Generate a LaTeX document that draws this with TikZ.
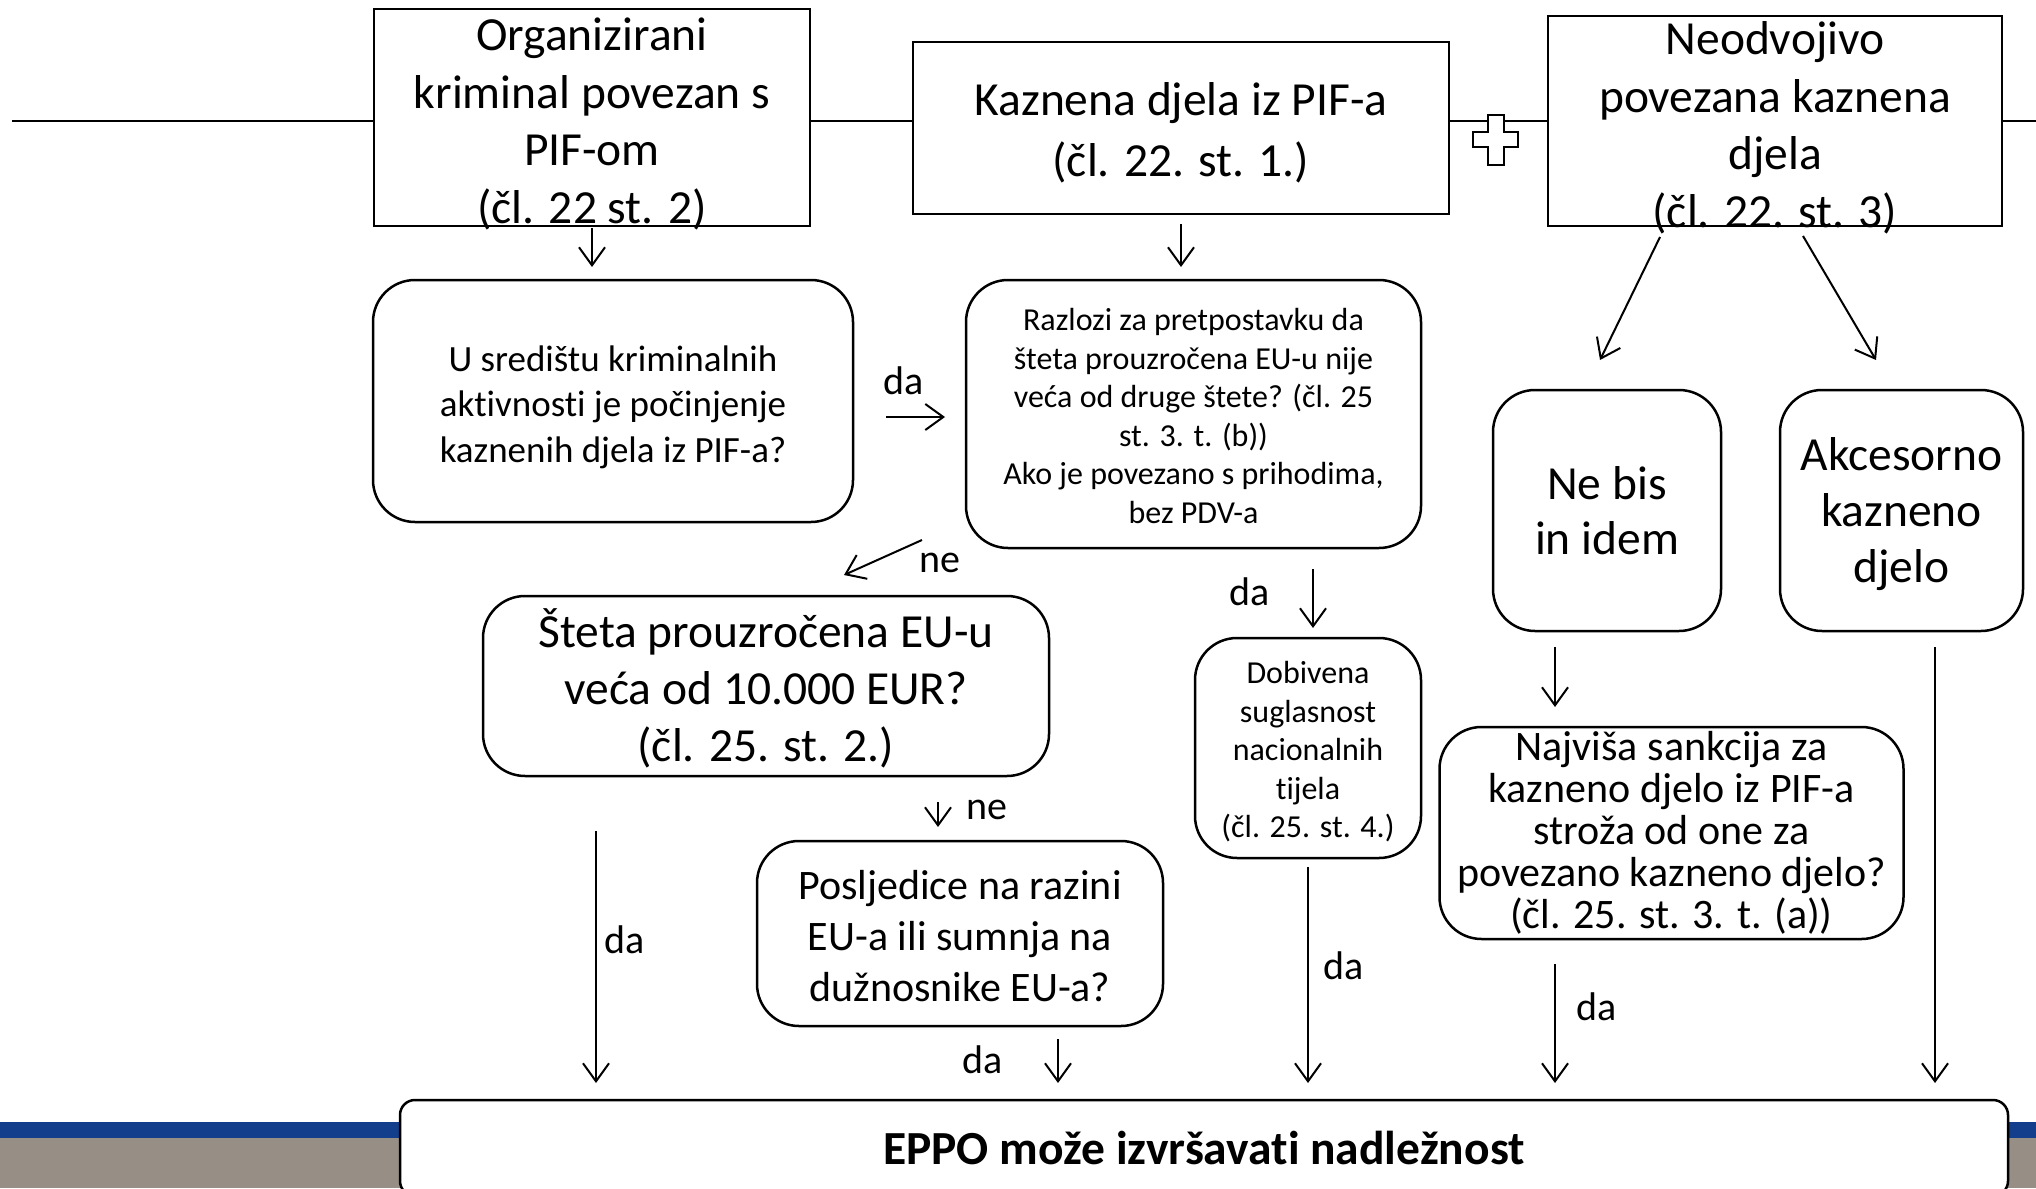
\documentclass[tikz,border=0pt]{standalone}
\usepackage{fontspec}
\setmainfont[Ligatures={NoCommon}]{Carlito}
\usetikzlibrary{arrows.meta}
\definecolor{bandblue}{RGB}{18,62,139}
\definecolor{bandgrey}{RGB}{151,143,134}
\newcommand\lowr[1]{\rule{0pt}{#1}}
\begin{document}
\begin{tikzpicture}[x=1pt,y=-1pt,
  topbox/.style={draw, line width=2.6pt, fill=white, inner sep=0pt, align=center, font=\fontsize{47.5}{57.5}\selectfont},
  toptext/.style={inner sep=0pt, align=center, font=\fontsize{47.5}{57.5}\selectfont},
  rbox/.style={draw, line width=2.5pt, fill=white, rounded corners=42pt, inner sep=0pt, align=center},
  arr/.style={line width=2pt, -{Straight Barb[length=18pt,width=26pt]}},
  lbl/.style={font=\fontsize{40}{48}\selectfont, inner sep=0pt}
]
\useasboundingbox (0,0) rectangle (2036,1188);
\clip (0,0) rectangle (2036,1188);
\fill[white] (0,0) rectangle (2036,1188);
% bottom bands
\fill[bandblue] (0,1122) rectangle (2036,1138);
\fill[bandgrey] (0,1138) rectangle (2036,1188);
% horizontal line
\coordinate (lstart) at (12,121);
\coordinate (lend) at (2036,121);
\draw[line width=1.8pt] (lstart) -- (lend);
% top boxes
\node[topbox, minimum width=436pt, minimum height=217pt] (b1) at (592,117.5) {};
\node[toptext] (b1t) at (592,124) {Organizirani\\kriminal povezan s\\PIF-om\\(čl. 22 st. 2)};
\node[topbox, minimum width=536pt, minimum height=172pt, font=\fontsize{47.5}{61}\selectfont] (b2) at (1181,128) {\lowr{42pt}Kaznena djela iz PIF-a\\(čl. 22. st. 1.)};
\node[topbox, minimum width=454pt, minimum height=210pt] (b3) at (1775,121) {};
\node[toptext] (b3t) at (1775,128) {Neodvojivo\\povezana kaznena\\djela\\(čl. 22. st. 3)};
% plus sign
\draw[line width=2.5pt, fill=white] (1488,115) -- (1504,115) -- (1504,132) -- (1518,132) -- (1518,147) -- (1504,147) -- (1504,165) -- (1488,165) -- (1488,147) -- (1473,147) -- (1473,132) -- (1488,132) -- cycle;
% rounded boxes
\node[rbox, minimum width=480pt, minimum height=242pt, font=\fontsize{37}{45.5}\selectfont] (A) at (613,401) {\lowr{38pt}U središtu kriminalnih\\aktivnosti je počinjenje\\kaznenih djela iz PIF-a?};
\node[rbox, minimum width=455pt, minimum height=268pt, font=\fontsize{32}{38.5}\selectfont] (B) at (1193.5,414) {\lowr{26pt}Razlozi za pretpostavku da\\šteta prouzročena EU-u nije\\veća od druge štete? (čl. 25\\st. 3. t. (b))\\Ako je povezano s prihodima,\\bez PDV-a};
\node[rbox, minimum width=228pt, minimum height=241pt, font=\fontsize{47.5}{55}\selectfont] (C) at (1607,510.5) {Ne bis\\in idem};
\node[rbox, minimum width=243pt, minimum height=241pt, font=\fontsize{47.5}{56}\selectfont] (D) at (1901.5,510.5) {\lowr{40pt}Akcesorno\\kazneno\\djelo};
\node[rbox, minimum width=566pt, minimum height=180pt, font=\fontsize{47.5}{57}\selectfont] (E) at (766,686) {\lowr{44pt}Šteta prouzročena EU-u\\veća od 10.000 EUR?\\(čl. 25. st. 2.)};
\node[rbox, minimum width=226pt, minimum height=220pt, font=\fontsize{32}{38.5}\selectfont] (F) at (1308,748) {\lowr{30pt}Dobivena\\suglasnost\\nacionalnih\\tijela\\(čl. 25. st. 4.)};
\node[rbox, minimum width=464pt, minimum height=212pt, font=\fontsize{42}{42}\selectfont] (G) at (1671.5,833) {Najviša sankcija za\\kazneno djelo iz PIF-a\\stroža od one za\\povezano kazneno djelo?\\(čl. 25. st. 3. t. (a))};
\node[rbox, minimum width=406pt, minimum height=185pt, font=\fontsize{42}{51}\selectfont] (H) at (960,933.5) {\lowr{35pt}Posljedice na razini\\EU-a ili sumnja na\\dužnosnike EU-a?};
\node[draw, line width=2.5pt, fill=white, rounded corners=15pt, inner sep=0pt, minimum width=1608pt, minimum height=96pt, font=\bfseries\fontsize{47.5}{57}\selectfont] (P) at (1204,1148) {EPPO može izvršavati nadležnost};
% arrow coordinates
\coordinate (a1s) at (592,228);   \coordinate (a1e) at (592,267);
\coordinate (a2s) at (1181,224);  \coordinate (a2e) at (1181,267);
\coordinate (a3s) at (1660,237);  \coordinate (a3e) at (1600,360);
\coordinate (a4s) at (1803,236);  \coordinate (a4e) at (1876,360);
\coordinate (a5s) at (886,417);   \coordinate (a5e) at (945,417);
\coordinate (a6s) at (922,540);   \coordinate (a6e) at (844,575);
\coordinate (a7s) at (1313,569);  \coordinate (a7e) at (1313,628);
\coordinate (a8s) at (1555,647);  \coordinate (a8e) at (1555,707);
\coordinate (a9s) at (938,802);   \coordinate (a9e) at (938,827);
\coordinate (a10s) at (596,831);  \coordinate (a10e) at (596,1083);
\coordinate (a11s) at (1058,1039);\coordinate (a11e) at (1058,1083);
\coordinate (a12s) at (1308,867); \coordinate (a12e) at (1308,1083);
\coordinate (a13s) at (1555,964); \coordinate (a13e) at (1555,1083);
\coordinate (a14s) at (1935,647); \coordinate (a14e) at (1935,1083);
\foreach \i in {1,...,14} {\draw[arr] (a\i s) -- (a\i e);}
% labels
\node[lbl] (l1) at (904,381) {da};
\node[lbl] (l2) at (940,563) {ne};
\node[lbl] (l3) at (1250,592) {da};
\node[lbl] (l4) at (987,810) {ne};
\node[lbl] (l5) at (625,940) {da};
\node[lbl] (l6) at (983,1060) {da};
\node[lbl] (l7) at (1344,966) {da};
\node[lbl] (l8) at (1597,1007) {da};
\end{tikzpicture}
\end{document}
